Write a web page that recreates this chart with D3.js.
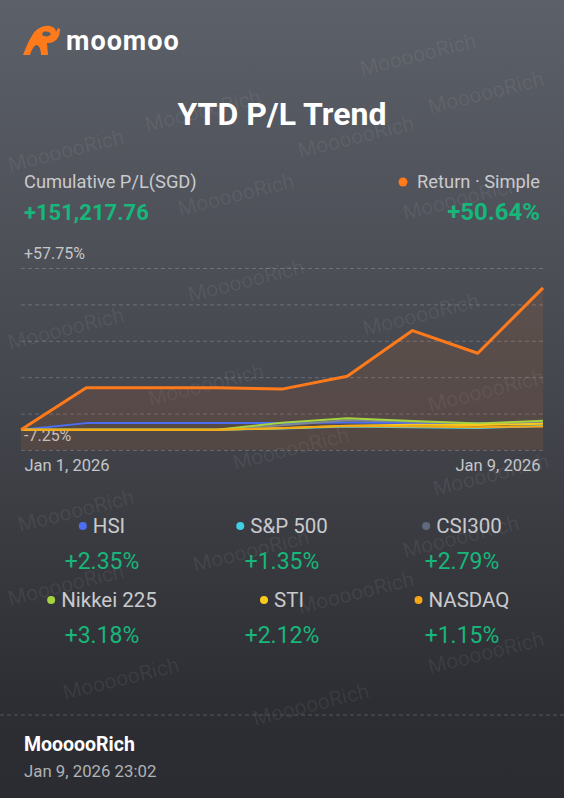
<!DOCTYPE html>
<html><head><meta charset="utf-8">
<script src="https://cdn.jsdelivr.net/npm/d3@7"></script>
<style>
html,body{margin:0;padding:0;background:#2b2c31;}
svg{display:block;}
text{font-family:Roboto,"Noto Sans",sans-serif;}
</style></head>
<body>
<svg id="c" width="564" height="798"></svg>
<script>
// ---- data ----
const dates = ["2026-01-01","2026-01-02","2026-01-03","2026-01-04","2026-01-05","2026-01-06","2026-01-07","2026-01-08","2026-01-09"];
const returnPct = [0, 15.0, 15.0, 15.0, 14.5, 19.1, 35.4, 27.3, 50.64];
const hsi     = [0, 2.35, 2.35, 2.35, 2.35, 2.6, 2.4, 2.2, 2.35];
const sp500   = [0, 0, 0, 0, 0.4, 1.1, 0.9, 0.6, 1.35];
const csi300  = [0, 0, 0, 0, 1.6, 3.4, 2.8, 2.3, 2.79];
const nikkei  = [0, 0, 0, 0, 2.5, 4.1, 3.1, 2.2, 3.18];
const sti     = [0, 0, 0, 0, 0.5, 1.4, 1.8, 1.7, 2.12];
const nasdaq  = [0, 0, 0, 0, 0.6, 1.3, 1.1, 0.9, 1.15];
const seriesNames  = ["HSI","S&P 500","CSI300","Nikkei 225","STI","NASDAQ"];
const seriesValues = [hsi, sp500, csi300, nikkei, sti, nasdaq];
const seriesLabels = ["+2.35%","+1.35%","+2.79%","+3.18%","+2.12%","+1.15%"];
const seriesColors = ["#4b6ef5","#3fcfe6","#7d8698","#a6d43e","#f8c91c","#f4a614"];
const dotColors    = ["#4b6ef5","#3fcfe6","#5f697c","#a6d43e","#f8c91c","#f4a614"];
const yTicks = [-7.25, 5.75, 18.75, 31.75, 44.75, 57.75];
const xTickLabels = ["Jan 1, 2026","Jan 9, 2026"];
const cumPL = "+151,217.76";
const totalReturn = "+50.64%";

const svg = d3.select("#c");
const W = 564, H = 798;
const green = "#17b67a";

// background
const defs = svg.append("defs");
const bg = defs.append("linearGradient").attr("id","bg").attr("x1",0).attr("y1",0).attr("x2",0).attr("y2",1);
bg.append("stop").attr("offset","0%").attr("stop-color","#5c6068");
bg.append("stop").attr("offset","50%").attr("stop-color","#44464d");
bg.append("stop").attr("offset","88%").attr("stop-color","#2d2e33");
bg.append("stop").attr("offset","100%").attr("stop-color","#2b2c31");
svg.append("rect").attr("width",W).attr("height",H).attr("fill","url(#bg)");

// watermarks
const wm = [[362,76],[147,132],[430,114],[10,172],[300,158],[180,216],[405,220],[190,302],[365,336],[10,350],[430,412],[235,470],[435,496],[20,532],[195,572],[405,558],[10,606],[300,614],[65,700],[430,674],[255,726],[150,406]];
svg.append("g").selectAll("text").data(wm).join("text")
  .attr("transform",d=>`translate(${d[0]},${d[1]}) rotate(-14)`)
  .attr("font-size",21).attr("fill","rgba(255,255,255,0.065)").text("MoooooRich");

// logo
const logo = svg.append("g");
logo.append("path").attr("fill","#ff7a1a")
  .attr("d","M23,55 C26,47 29,40 33,34 C37,28 44,25 50,26 C54,27 56,29 56,32 L58,28 L60,29 C60,35 58,40 53,42 C51,43 49,43 47,43 L48,55 L41,55 C41,49 39,45 36,45 C33,47 31,51 30,55 Z");
logo.append("path").attr("fill","#5a5e66")
  .attr("d","M43,32 C47,31 50,32 51,34 C49,37 45,37 42,35 Z");
logo.append("text").attr("x",66).attr("y",50).attr("font-size",27).attr("font-weight",700)
  .attr("letter-spacing",1)
  .attr("fill","#ffffff").attr("font-family","Lato, Roboto, sans-serif").text("moomoo");

// title
svg.append("text").attr("x",282).attr("y",125).attr("text-anchor","middle")
  .attr("font-size",32).attr("font-weight",700).attr("fill","#ffffff").text("YTD P/L Trend");

// header stats
svg.append("text").attr("x",24).attr("y",188).attr("font-size",18.3).attr("fill","#c9cacd").text("Cumulative P/L(SGD)");
svg.append("text").attr("x",24).attr("y",220).attr("font-size",22).attr("font-weight",700).attr("fill",green).text(cumPL);
svg.append("circle").attr("cx",403).attr("cy",182).attr("r",4.5).attr("fill","#ff7a1a");
svg.append("text").attr("x",540).attr("y",188).attr("text-anchor","end").attr("font-size",18.3).attr("fill","#c9cacd").text("Return · Simple");
svg.append("text").attr("x",540).attr("y",220).attr("text-anchor","end").attr("font-size",24).attr("font-weight",700).attr("fill",green).text(totalReturn);

// chart
const parse = d3.timeParse("%Y-%m-%d");
const xDates = dates.map(parse);
const x = d3.scaleTime().domain(d3.extent(xDates)).range([21, 543]);
const y = d3.scaleLinear().domain([yTicks[0], yTicks[yTicks.length-1]]).range([450, 268]);

// grid
const grid = svg.append("g").attr("transform","translate(21,0)")
  .call(d3.axisLeft(y).tickValues(yTicks).tickSize(-522).tickFormat(""));
grid.select(".domain").remove();
grid.selectAll("line").attr("stroke","rgba(255,255,255,0.2)").attr("stroke-dasharray","4,3");

// y labels (top and bottom)
svg.append("g").selectAll("text").data([yTicks[yTicks.length-1], yTicks[0]]).join("text")
  .attr("x",24).attr("y",d=>y(d)-9).attr("font-size",16).attr("fill","#c4c6ca")
  .text(d=>(d>0?"+":"")+d.toFixed(2)+"%");

// return area + line
const retData = xDates.map((d,i)=>({d, v:returnPct[i]}));
svg.append("path").datum(retData)
  .attr("fill","rgba(255,120,30,0.10)")
  .attr("d", d3.area().x(p=>x(p.d)).y0(y(yTicks[0])).y1(p=>y(p.v)));

// index lines
seriesValues.forEach((vals,k)=>{
  svg.append("path").datum(xDates.map((d,i)=>({d, v:vals[i]})))
    .attr("fill","none").attr("stroke",seriesColors[k]).attr("stroke-width",2)
    .attr("stroke-linejoin","round")
    .attr("d", d3.line().x(p=>x(p.d)).y(p=>y(p.v)));
});

svg.append("path").datum(retData)
  .attr("fill","none").attr("stroke","#ff7a1a").attr("stroke-width",3)
  .attr("stroke-linejoin","round")
  .attr("d", d3.line().x(p=>x(p.d)).y(p=>y(p.v)));

// x axis labels
const xa = svg.append("g").attr("transform","translate(0,450)")
  .call(d3.axisBottom(x).tickValues([xDates[0], xDates[xDates.length-1]]).tickSize(0).tickFormat((d,i)=>xTickLabels[i]));
xa.select(".domain").remove();
xa.selectAll("text").attr("font-size",16.5).attr("fill","#c4c6ca").attr("dy",0).attr("y",21)
  .attr("font-family","Roboto, 'Noto Sans', sans-serif")
  .attr("text-anchor",(d,i)=>i===0?"start":"end")
  .attr("x",(d,i)=>i===0?3:-3);

// legend
const colX = [102, 282, 462];
const rowY = [526, 600];
seriesNames.forEach((name,k)=>{
  const cx = colX[k%3], ry = rowY[Math.floor(k/3)];
  const g = svg.append("g");
  const t = g.append("text").attr("y",ry+7).attr("font-size",20.5).attr("fill","#c9cacd").text(name);
  const tw = t.node().getComputedTextLength();
  const total = 8 + 6 + tw;
  const left = cx - total/2;
  g.append("circle").attr("cx",left+4).attr("cy",ry).attr("r",4).attr("fill",dotColors[k]);
  t.attr("x",left+14);
  svg.append("text").attr("x",cx).attr("y",ry+43).attr("text-anchor","middle")
    .attr("font-size",23).attr("fill",green).text(seriesLabels[k]);
});

// footer
svg.append("line").attr("x1",0).attr("x2",W).attr("y1",715).attr("y2",715)
  .attr("stroke","#55575d").attr("stroke-dasharray","4,3");
svg.append("text").attr("x",24).attr("y",751).attr("font-size",19.5).attr("font-weight",700).attr("fill","#ffffff").text("MoooooRich");
svg.append("text").attr("x",24).attr("y",777).attr("font-size",16.8).attr("fill","#b0b2b6").text("Jan 9, 2026 23:02");
</script>
</body></html>
